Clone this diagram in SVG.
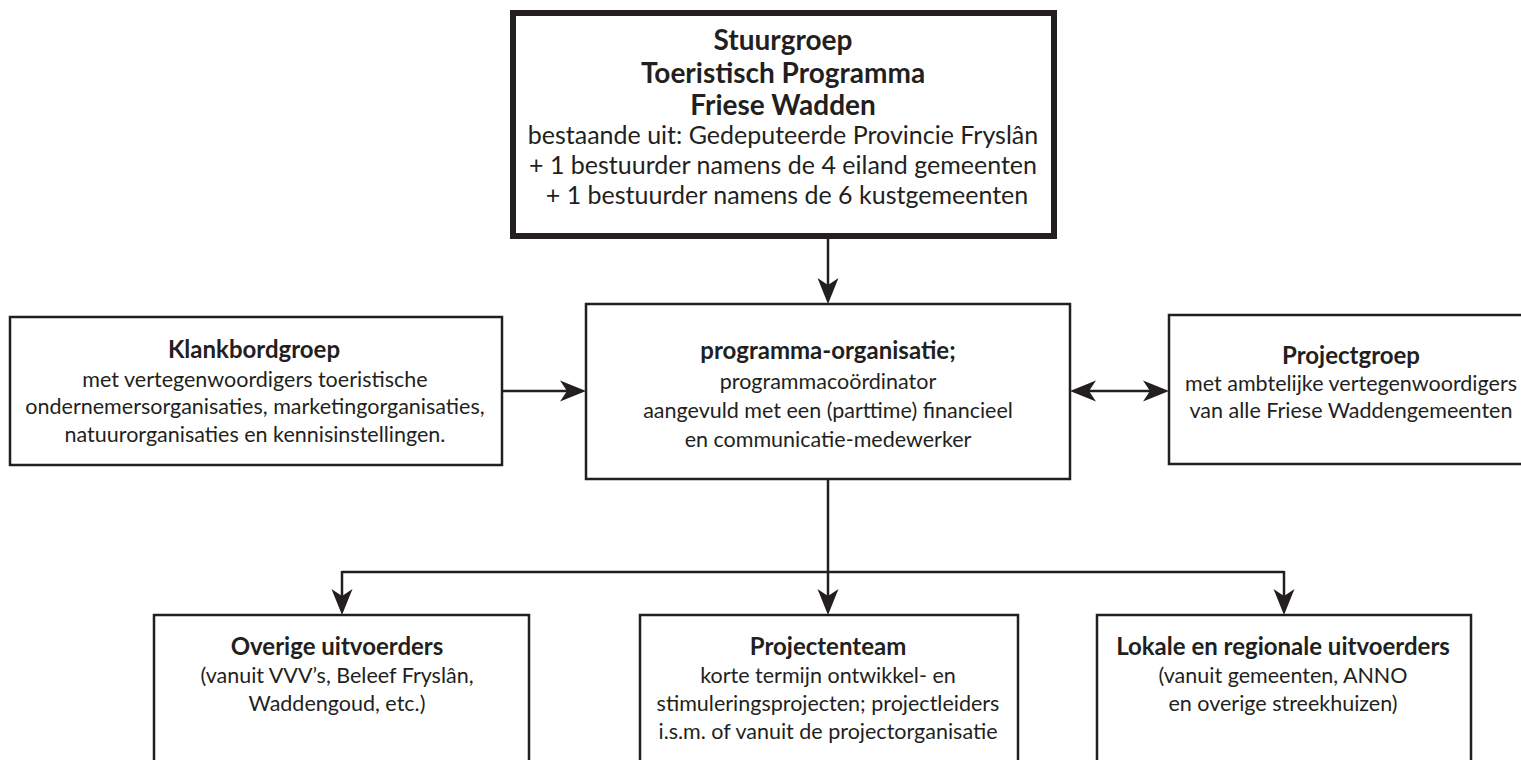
<svg xmlns="http://www.w3.org/2000/svg" width="1521" height="760" viewBox="0 0 1521 760">
<style>
.box{fill:#fff;stroke:#231f20;stroke-width:2.5}
.thick{fill:#fff;stroke:#231f20;stroke-width:6}
.con{fill:none;stroke:#231f20;stroke-width:2.5}
text{font-family:Lato,"Open Sans","Liberation Sans",sans-serif;fill:#231f20;text-anchor:middle}
.t{font-weight:bold;font-size:28px}
.tb{font-size:25px}
.h{font-weight:bold;font-size:24px}
.r{font-size:21.5px}
</style>
<defs>
<marker id="ah" viewBox="-27 -11 28 22" markerWidth="28" markerHeight="22" refX="-10" refY="0" orient="auto-start-reverse" markerUnits="userSpaceOnUse">
<path d="M0,0 L-26,-10.5 L-19,0 L-26,10.5 Z" fill="#231f20"/>
</marker>
</defs>
<rect width="1521" height="760" fill="#fff"/>
<g id="connectors">
<path class="con" d="M828,239 V294" marker-end="url(#ah)"/>
<path class="con" d="M502,391 H576" marker-end="url(#ah)"/>
<path class="con" d="M1080,391 H1159" marker-start="url(#ah)" marker-end="url(#ah)"/>
<path class="con" d="M828,479 V572 M342,572 H1284"/>
<path class="con" d="M342,571 V605" marker-end="url(#ah)"/>
<path class="con" d="M828,571 V605" marker-end="url(#ah)"/>
<path class="con" d="M1284,571 V605" marker-end="url(#ah)"/>
</g>
<g id="stuurgroep">
<rect class="thick" x="513" y="13" width="541" height="223"/>
<text class="t" x="783" y="50">Stuurgroep</text>
<text class="t" x="783" y="83">Toeristisch Programma</text>
<text class="t" x="783" y="115">Friese Wadden</text>
<text class="tb" x="783" y="144">bestaande uit: Gedeputeerde Provincie Fryslân</text>
<text class="tb" x="783" y="174">+ 1 bestuurder namens de 4 eiland gemeenten</text>
<text class="tb" x="787" y="204">+ 1 bestuurder namens de 6 kustgemeenten</text>
</g>
<g id="klankbordgroep">
<rect class="box" x="10" y="317" width="492" height="148"/>
<text class="h" x="254" y="358">Klankbordgroep</text>
<text class="r" x="255" y="387">met vertegenwoordigers toeristische</text>
<text class="r" x="255" y="414">ondernemersorganisaties, marketingorganisaties,</text>
<text class="r" x="255" y="442">natuurorganisaties en kennisinstellingen.</text>
</g>
<g id="programma-organisatie">
<rect class="box" x="586" y="304" width="484" height="175"/>
<text class="h" x="828" y="359">programma-organisatie;</text>
<text class="r" x="828" y="389">programmacoördinator</text>
<text class="r" x="828" y="418">aangevuld met een (parttime) financieel</text>
<text class="r" x="828" y="447">en communicatie-medewerker</text>
</g>
<g id="projectgroep">
<rect class="box" x="1169" y="315" width="370" height="149"/>
<text class="h" x="1351" y="364">Projectgroep</text>
<text class="r" x="1351" y="391">met ambtelijke vertegenwoordigers</text>
<text class="r" x="1351" y="418">van alle Friese Waddengemeenten</text>
</g>
<g id="overige-uitvoerders">
<rect class="box" x="154" y="615" width="375" height="170"/>
<text class="h" x="337" y="655">Overige uitvoerders</text>
<text class="r" x="337" y="683">(vanuit VVV’s, Beleef Fryslân,</text>
<text class="r" x="337" y="711">Waddengoud, etc.)</text>
</g>
<g id="projectenteam">
<rect class="box" x="640" y="615" width="378" height="170"/>
<text class="h" x="828" y="655">Projectenteam</text>
<text class="r" x="828" y="683">korte termijn ontwikkel- en</text>
<text class="r" x="828" y="711">stimuleringsprojecten; projectleiders</text>
<text class="r" x="828" y="739">i.s.m. of vanuit de projectorganisatie</text>
</g>
<g id="lokale-uitvoerders">
<rect class="box" x="1097" y="615" width="374" height="170"/>
<text class="h" x="1283" y="655">Lokale en regionale uitvoerders</text>
<text class="r" x="1283" y="683">(vanuit gemeenten, ANNO</text>
<text class="r" x="1283" y="711">en overige streekhuizen)</text>
</g>
</svg>
